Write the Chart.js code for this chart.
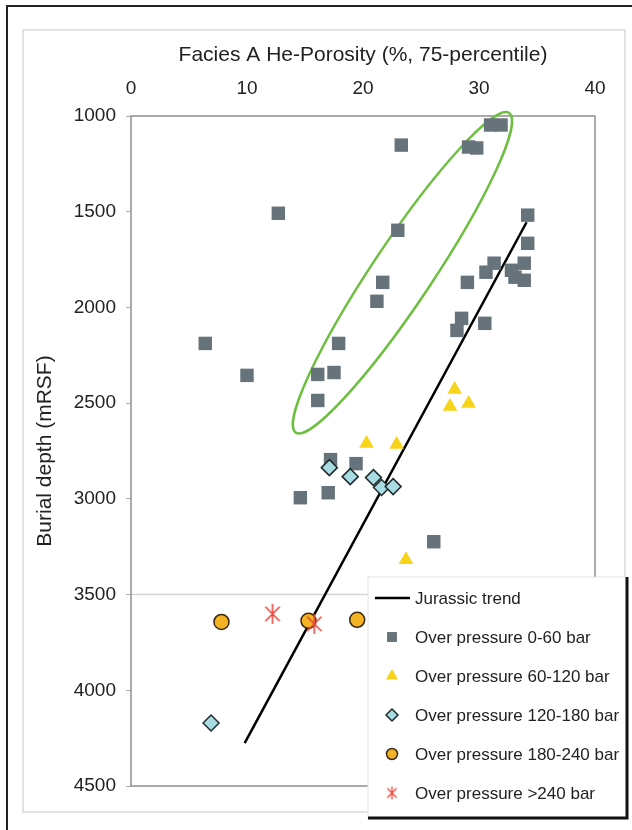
<!DOCTYPE html>
<html lang="en">
<head>
<meta charset="UTF-8" />
<title>Facies A He-Porosity vs Burial depth</title>
<script src="https://cdn.jsdelivr.net/npm/chart.js@4"></script>
<style>
  html, body { margin: 0; padding: 0; background: #fff; }
  #wrap { width: 632px; height: 830px; }
</style>
</head>
<body>
<div id="wrap"><canvas id="depthChart" width="632" height="830"></canvas></div>
<script>
// values: porosity (%) and burial depth (mRSF)
const op0Por   = [31.0, 31.9, 23.3, 29.1, 29.8, 12.7, 34.2, 23.0, 34.2, 31.3, 30.6, 32.8, 33.9, 33.1, 33.9, 21.7,
                  29.0, 21.2, 28.5, 30.5, 28.1, 6.4, 17.9, 10.0, 16.1, 17.5, 16.1, 17.2, 19.4, 14.6, 17.0, 26.1];
const op0Depth = [1047, 1047, 1152, 1162, 1167, 1508, 1518, 1597, 1665, 1769, 1816, 1806, 1769, 1842, 1858, 1869,
                  1869, 1968, 2057, 2083, 2120, 2188, 2188, 2355, 2350, 2340, 2486, 2795, 2816, 2994, 2968, 3224];

const op60Por   = [27.9, 27.5, 29.1, 20.3, 22.9, 23.7];
const op60Depth = [2429, 2518, 2502, 2711, 2716, 3318];

const op120Por   = [17.1, 18.9, 20.9, 21.6, 22.6, 6.9];
const op120Depth = [2837, 2884, 2889, 2941, 2936, 4171];

const op180Por   = [7.8, 15.3, 19.5];
const op180Depth = [3643, 3637, 3632];

const op240Por   = [12.2, 15.8];
const op240Depth = [3601, 3653];

const trendPor   = [34.1, 9.8];
const trendDepth = [1555, 4276];

// tips of the green ellipse (porosity, depth)
const ellipsePor   = [32.6, 14.2];
const ellipseDepth = [984, 2654];

const porosityTicks = [0, 10, 20, 30, 40];
const depthTicks = [1000, 1500, 2000, 2500, 3000, 3500, 4000, 4500];

const FONT = "'Liberation Sans', Arial, sans-serif";

function pairs(xs, ys) {
  return xs.map((x, i) => ({ x: x, y: ys[i] }));
}

// excel-like "*" marker: an X plus a vertical stroke
function makeStar(size, color, lw) {
  const c = document.createElement('canvas');
  c.width = c.height = size;
  const g = c.getContext('2d');
  const m = size / 2, r = size / 2 - 1, d = r * 0.72;
  g.strokeStyle = color;
  g.lineWidth = lw;
  g.beginPath();
  g.moveTo(m, m - r); g.lineTo(m, m + r);
  g.moveTo(m - d, m - d); g.lineTo(m + d, m + d);
  g.moveTo(m + d, m - d); g.lineTo(m - d, m + d);
  g.stroke();
  return c;
}

const starBig = makeStar(22, '#e8463c', 1.6);
const starSmall = makeStar(15, '#e8463c', 1.3);

const frameAndEllipse = {
  id: 'frameAndEllipse',
  beforeDraw(chart) {
    const ctx = chart.ctx;
    ctx.save();
    // scanned page borders
    ctx.strokeStyle = '#d9d9d9';
    ctx.lineWidth = 1.5;
    ctx.strokeRect(23, 30, 602, 782);
    ctx.strokeStyle = '#222';
    ctx.lineWidth = 2;
    ctx.beginPath();
    ctx.moveTo(7, 830); ctx.lineTo(7, 6); ctx.lineTo(632, 6);
    ctx.stroke();
    ctx.restore();
  },
  beforeDatasetsDraw(chart) {
    const { ctx, chartArea: a, scales: { x, y } } = chart;
    ctx.save();
    // faint line at 3500 m
    const y35 = y.getPixelForValue(3500);
    ctx.strokeStyle = '#d4d4d4';
    ctx.lineWidth = 1.5;
    ctx.beginPath();
    ctx.moveTo(a.left, y35); ctx.lineTo(a.right, y35);
    ctx.stroke();
    // plot frame
    ctx.strokeStyle = '#8f8f8f';
    ctx.lineWidth = 1.5;
    ctx.strokeRect(a.left, a.top, a.right - a.left, a.bottom - a.top);
    // green ellipse
    const x1 = x.getPixelForValue(ellipsePor[0]), y1 = y.getPixelForValue(ellipseDepth[0]);
    const x2 = x.getPixelForValue(ellipsePor[1]), y2 = y.getPixelForValue(ellipseDepth[1]);
    const cx = (x1 + x2) / 2, cy = (y1 + y2) / 2;
    const semiMajor = Math.hypot(x1 - x2, y1 - y2) / 2;
    const angle = Math.atan2(y1 - y2, x1 - x2);
    ctx.strokeStyle = '#6cbf3f';
    ctx.lineWidth = 2.5;
    ctx.beginPath();
    ctx.ellipse(cx, cy, semiMajor, 30, angle, 0, Math.PI * 2);
    ctx.stroke();
    ctx.restore();
  },
  afterDraw(chart) {
    const ctx = chart.ctx;
    const box = { left: 368, top: 577, right: 627, bottom: 818 };
    ctx.save();
    ctx.fillStyle = '#fff';
    ctx.fillRect(box.left, box.top, box.right - box.left, box.bottom - box.top);
    ctx.strokeStyle = '#e3e3e3';
    ctx.lineWidth = 1;
    ctx.beginPath();
    ctx.moveTo(box.left, box.bottom); ctx.lineTo(box.left, box.top); ctx.lineTo(box.right, box.top);
    ctx.stroke();
    ctx.strokeStyle = '#111';
    ctx.lineWidth = 3;
    ctx.beginPath();
    ctx.moveTo(box.left, box.bottom); ctx.lineTo(box.right, box.bottom); ctx.lineTo(box.right, box.top);
    ctx.stroke();

    ctx.font = '17px ' + FONT;
    ctx.textBaseline = 'middle';
    ctx.textAlign = 'left';
    chart.data.datasets.forEach((ds, i) => {
      const yy = 598 + i * 39;
      ctx.fillStyle = ds.backgroundColor || '#000';
      ctx.strokeStyle = ds.borderColor || ds.backgroundColor;
      ctx.lineWidth = ds.borderWidth || 0;
      if (ds.showLine) {
        ctx.strokeStyle = ds.borderColor;
        ctx.lineWidth = 2.5;
        ctx.beginPath();
        ctx.moveTo(375, yy); ctx.lineTo(410, yy);
        ctx.stroke();
      } else {
        const style = ds.pointStyle === starBig ? starSmall : ds.pointStyle;
        Chart.helpers.drawPoint(ctx, {
          pointStyle: style, rotation: 0,
          radius: ds.legendRadius, borderWidth: ds.borderWidth || 0
        }, 392, yy);
      }
      ctx.fillStyle = '#222';
      ctx.fillText(ds.label, 415, yy + 1);
    });
    ctx.restore();
  }
};

new Chart(document.getElementById('depthChart'), {
  type: 'scatter',
  data: {
    datasets: [
      {
        label: 'Jurassic trend',
        data: pairs(trendPor, trendDepth),
        showLine: true,
        borderColor: '#000',
        borderWidth: 2.5,
        pointRadius: 0,
        order: 10
      },
      {
        label: 'Over pressure 0-60 bar',
        data: pairs(op0Por, op0Depth),
        pointStyle: 'rect',
        backgroundColor: '#67737a',
        borderWidth: 0,
        pointRadius: 9.5,
        legendRadius: 7,
        order: 5
      },
      {
        label: 'Over pressure 60-120 bar',
        data: pairs(op60Por, op60Depth),
        pointStyle: 'triangle',
        backgroundColor: '#f7d31a',
        borderWidth: 0,
        pointRadius: 8.5,
        legendRadius: 7,
        order: 4
      },
      {
        label: 'Over pressure 120-180 bar',
        data: pairs(op120Por, op120Depth),
        pointStyle: 'rectRot',
        backgroundColor: '#a9dbe3',
        borderColor: '#1f2b2d',
        borderWidth: 1.5,
        pointRadius: 8,
        legendRadius: 6,
        order: 3
      },
      {
        label: 'Over pressure 180-240 bar',
        data: pairs(op180Por, op180Depth),
        pointStyle: 'circle',
        backgroundColor: '#f4b324',
        borderColor: '#3b2a12',
        borderWidth: 1.5,
        pointRadius: 7.5,
        legendRadius: 5.5,
        order: 2
      },
      {
        label: 'Over pressure >240 bar',
        data: pairs(op240Por, op240Depth),
        pointStyle: starBig,
        backgroundColor: '#e8463c',
        borderColor: '#e8463c',
        borderWidth: 0,
        pointRadius: 9,
        legendRadius: 7,
        order: 1
      }
    ]
  },
  options: {
    responsive: false,
    animation: false,
    devicePixelRatio: 1,
    layout: { padding: { left: 0, top: 0, right: 37, bottom: 44 } },
    plugins: {
      legend: { display: false },
      tooltip: { enabled: false }
    },
    scales: {
      x: {
        type: 'linear',
        position: 'top',
        min: 0,
        max: 40,
        afterBuildTicks: s => { s.ticks = porosityTicks.map(v => ({ value: v })); },
        afterFit: s => { s.height = 116; },
        grid: { drawOnChartArea: false, drawTicks: false },
        border: { display: false },
        ticks: { padding: 16, color: '#222', font: { family: FONT, size: 19 }, callback: v => String(v) },
        title: {
          display: true,
          text: 'Facies A He-Porosity (%, 75-percentile)',
          color: '#222',
          font: { family: FONT, size: 21 },
          padding: { top: 43, bottom: 0 }
        }
      },
      y: {
        type: 'linear',
        reverse: true,
        min: 1000,
        max: 4500,
        afterBuildTicks: s => { s.ticks = depthTicks.map(v => ({ value: v })); },
        afterFit: s => { s.width = 131; },
        grid: { drawOnChartArea: false, drawTicks: true, tickLength: 5, color: '#aaa' },
        border: { display: false },
        ticks: { padding: 10, color: '#222', font: { family: FONT, size: 19 }, callback: v => String(v) },
        title: {
          display: true,
          text: 'Burial depth (mRSF)',
          color: '#222',
          font: { family: FONT, size: 21 },
          padding: { top: 33, bottom: 0 }
        }
      }
    }
  },
  plugins: [frameAndEllipse]
});
</script>
</body>
</html>
